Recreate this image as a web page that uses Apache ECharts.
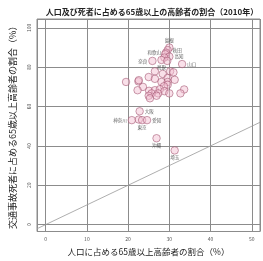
<!DOCTYPE html>
<html>
<head>
<meta charset="utf-8">
<script src="https://cdn.jsdelivr.net/npm/echarts@6/dist/echarts.min.js"></script>
<style>
  html, body { margin: 0; padding: 0; background: #fff; }
  #chart { width: 263px; height: 261px; }
</style>
</head>
<body>
<div id="chart"></div>
<script>
// 人口の高齢者割合 (%)
const popElderly = [
  30.0, 29.6, 29.2, 29.0, 30.0, 28.8, 28.1, 29.5, 25.9, 33.1,
  26.5, 30.2, 31.0, 28.4, 25.0, 26.5, 29.6, 31.3, 22.5, 28.1,
  29.6, 29.6, 23.6, 28.7, 22.3, 25.1, 26.5, 27.7, 28.8, 33.6,
  32.7, 30.0, 27.3, 25.7, 25.0, 25.3, 26.9, 19.5, 22.6, 22.8,
  20.9, 22.6, 23.4, 24.6, 26.9, 31.3
];
// 交通事故死者の高齢者割合 (%)
const deathElderly = [
  90.0, 88.7, 87.4, 86.6, 85.4, 84.9, 83.7, 83.2, 83.2, 81.6,
  77.9, 77.9, 77.4, 76.6, 75.0, 74.1, 74.5, 73.6, 72.8, 72.5,
  72.5, 71.1, 70.0, 70.3, 68.3, 68.0, 68.3, 68.8, 67.8, 68.7,
  66.7, 66.7, 66.7, 66.7, 65.5, 64.2, 65.5, 72.5, 73.4, 57.6,
  53.1, 53.4, 53.1, 53.1, 43.9, 37.7
];
// 地名ラベル (空文字はラベルなし)
const prefNames = [
  '島根', '秋田', '和歌山', '', '高知', '', '鳥取', '', '奈良', '山口',
  '', '', '', '', '', '', '', '', '', '',
  '', '', '', '', '', '', '', '', '', '',
  '', '', '', '', '', '', '', '', '', '大阪',
  '神奈川', '', '東京', '愛知', '沖縄', '埼玉'
];
const xTicks = [0, 10, 20, 30, 40, 50];
const yTicks = [0, 20, 40, 60, 80, 100];

const X_MIN = -2.1, X_MAX = 52;
const Y_MIN = -3.5, Y_MAX = 104.5;

const labelSide = {
  '島根': 'top', '秋田': 'right', '和歌山': 'left', '高知': 'right', '鳥取': 'bottom',
  '奈良': 'left', '山口': 'right', '大阪': 'right', '神奈川': 'left',
  '東京': 'bottom', '愛知': 'right', '沖縄': 'bottom', '埼玉': 'bottom'
};

const chart = echarts.init(document.getElementById('chart'), null, { renderer: 'canvas' });

const pts = popElderly.map((x, i) => {
  const name = prefNames[i];
  return {
    value: [x, deathElderly[i]],
    name: name,
    label: {
      show: !!name,
      position: labelSide[name] || 'right',
      distance: 1
    }
  };
});

const gridLine = { show: true, lineStyle: { color: '#8c8c8c', width: 1 } };
const font = '"Noto Sans CJK JP", "Noto Sans", sans-serif';

chart.setOption({
  animation: false,
  backgroundColor: '#fff',
  textStyle: { fontFamily: font },
  title: {
    text: '人口及び死者に占める65歳以上の高齢者の割合（2010年）',
    left: 147,
    textAlign: 'center',
    top: 3,
    textStyle: { fontSize: 8, fontWeight: 'bold', color: '#222', fontFamily: font }
  },
  grid: {
    left: 27, right: 3, top: 19, bottom: 25,
    show: true, borderColor: '#8c8c8c', borderWidth: 1, backgroundColor: '#fff'
  },
  xAxis: {
    type: 'value',
    min: X_MIN, max: X_MAX,
    splitNumber: 5,
    name: '人口に占める65歳以上高齢者の割合（%）',
    nameLocation: 'middle',
    nameGap: 16,
    nameTextStyle: { fontSize: 8.5, color: '#222', fontFamily: font },
    axisLine: { show: false },
    axisTick: { show: true, length: 2, lineStyle: { color: '#888' } },
    axisLabel: {
      fontSize: 5, color: '#555', margin: 5,
      showMinLabel: false, showMaxLabel: false,
      formatter: v => xTicks.includes(v) ? String(v) : ''
    },
    splitLine: gridLine
  },
  yAxis: {
    type: 'value',
    min: Y_MIN, max: Y_MAX,
    splitNumber: 5,
    name: '交通事故死者に占める65歳以上高齢者の割合（%）',
    nameLocation: 'middle',
    nameGap: 20,
    nameTextStyle: { fontSize: 9, color: '#222', fontFamily: font },
    axisLine: { show: false },
    axisTick: { show: true, length: 2, lineStyle: { color: '#888' } },
    axisLabel: {
      fontSize: 5, color: '#555', margin: 5, rotate: 90,
      showMinLabel: false, showMaxLabel: false,
      formatter: v => yTicks.includes(v) ? String(v) : ''
    },
    splitLine: gridLine
  },
  series: [
    {
      type: 'line',
      data: [[X_MIN, X_MIN], [X_MAX, X_MAX]],
      symbol: 'none',
      silent: true,
      clip: true,
      lineStyle: { color: '#999', width: 0.8 },
      z: 1
    },
    {
      type: 'scatter',
      data: pts,
      symbol: 'circle',
      symbolSize: 7.5,
      itemStyle: {
        color: 'rgba(242, 190, 208, 0.6)',
        borderColor: '#a0506e',
        borderWidth: 0.7
      },
      label: {
        formatter: p => p.name,
        fontSize: 4.5,
        color: '#333',
        fontFamily: font
      },
      z: 3
    }
  ]
});
</script>
</body>
</html>
